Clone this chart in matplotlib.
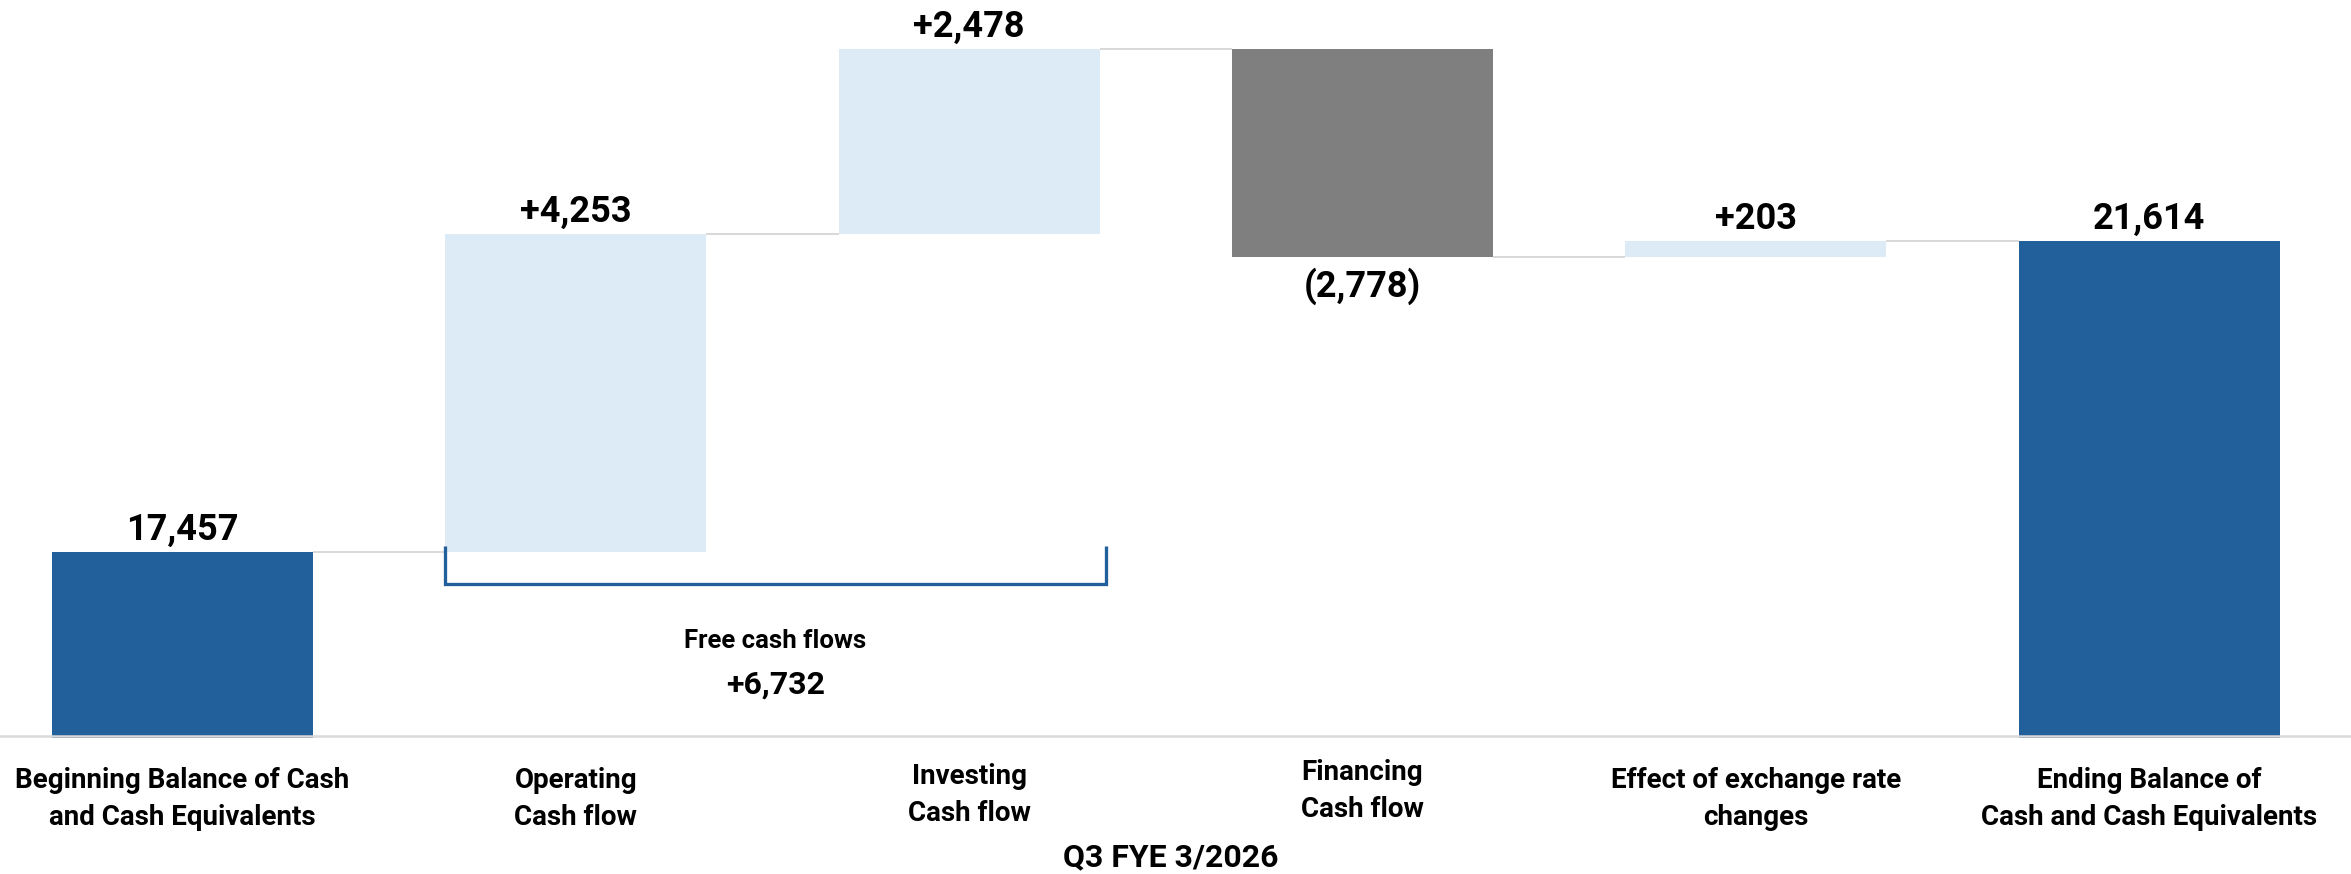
import matplotlib
matplotlib.use("Agg")
import matplotlib.pyplot as plt
from matplotlib.patches import Rectangle

# ---------------- data ----------------
categories = [
    "Beginning Balance of Cash\nand Cash Equivalents",
    "Operating\nCash flow",
    "Investing\nCash flow",
    "Financing\nCash flow",
    "Effect of exchange rate\nchanges",
    "Ending Balance of\nCash and Cash Equivalents",
]
amounts = [17457, 4253, 2478, -2778, 203, 21614]
bar_kinds = ["total", "delta", "delta", "delta", "delta", "total"]
value_labels = ["17,457", "+4,253", "+2,478", "(2,778)", "+203", "21,614"]
free_cash_flow_title = "Free cash flows"
free_cash_flow = 6732
period_label = "Q3 FYE 3/2026"

# ---------------- style ----------------
DPI = 100
W_PX, H_PX = 2351, 874
MAIN_FONT = ["Roboto", "DejaVu Sans"]
DARK_BLUE = "#21609B"
LIGHT_BLUE = "#DDEBF7"
NEG_GRAY = "#7F7F7F"
RULE_GRAY = "#D9D9D9"
AXIS_VALUE = 15000
Y_MIN, Y_MAX = 13150, 24843
X_MIN, X_MAX = -0.464, 5.513
BAR_W = 0.664
# small vertical nudges (px) of the category captions, as laid out on the slide
CAPTION_NUDGE = [0, 0, -4, -8, 0, 0]


def pt(px):
    return px * 72.0 / DPI


UPP = (Y_MAX - Y_MIN) / H_PX          # data units per pixel (vertical)
XPP = (X_MAX - X_MIN) / W_PX          # data units per pixel (horizontal)

fig = plt.figure(figsize=(W_PX / DPI, H_PX / DPI), dpi=DPI)
ax = fig.add_axes([0, 0, 1, 1])
ax.set_xlim(X_MIN, X_MAX)
ax.set_ylim(Y_MIN, Y_MAX)
ax.axis("off")

# ---- floating bars ----
levels = []
running = 0
for i, (amt, kind) in enumerate(zip(amounts, bar_kinds)):
    if kind == "total":
        lo, hi = AXIS_VALUE - 2.5 * UPP, amt
        running = amt
        color = DARK_BLUE
    else:
        start = running
        running = running + amt
        lo, hi = min(start, running), max(start, running)
        color = LIGHT_BLUE if amt >= 0 else NEG_GRAY
    levels.append(running)
    ax.add_patch(Rectangle((i - BAR_W / 2, lo), BAR_W, hi - lo,
                           facecolor=color, edgecolor="none", zorder=2))

    # value label
    if kind == "delta" and amt < 0:
        ax.text(i, lo - 40 * UPP, value_labels[i], ha="center", va="baseline",
                fontsize=26, fontweight="bold", family=MAIN_FONT, zorder=5)
    else:
        ax.text(i, hi + 12 * UPP, value_labels[i], ha="center", va="baseline",
                fontsize=26, fontweight="bold", family=MAIN_FONT, zorder=5)

# ---- connector lines between bars ----
for i in range(len(amounts) - 1):
    ax.plot([i + BAR_W / 2, i + 1 - BAR_W / 2], [levels[i], levels[i]],
            color=RULE_GRAY, lw=pt(2), solid_capstyle="butt", zorder=1)

# ---- baseline rule ----
ax.axhline(AXIS_VALUE, color=RULE_GRAY, lw=pt(2.5), zorder=3)

# ---- free cash flow bracket (operating + investing) ----
bx0 = 1 - BAR_W / 2
bx1 = 2 + BAR_W / 2 + 6 * XPP
b_top = levels[0] + 6 * UPP
b_low = levels[0] - 32 * UPP
ax.plot([bx0, bx0, bx1, bx1], [b_top, b_low, b_low, b_top],
        color=DARK_BLUE, lw=pt(3.3), solid_joinstyle="miter",
        solid_capstyle="butt", zorder=4)
bxc = (bx0 + bx1) / 2
ax.text(bxc, b_low - 64 * UPP, free_cash_flow_title, ha="center", va="baseline",
        fontsize=18.5, fontweight="bold", family=MAIN_FONT, zorder=5)
ax.text(bxc, b_low - 109 * UPP, f"+{free_cash_flow:,}", ha="center", va="baseline",
        fontsize=23, fontweight="bold", family=MAIN_FONT, zorder=5)

# ---- category captions ----
for i, cat in enumerate(categories):
    lines = cat.split("\n")
    for j, line in enumerate(lines):
        y = AXIS_VALUE - (52 + 37 * j + CAPTION_NUDGE[i]) * UPP
        ax.text(i, y, line, ha="center", va="baseline",
                fontsize=20, fontweight="bold", family=MAIN_FONT, zorder=5)

# ---- period caption ----
ax.text(X_MIN + 1171 * XPP, AXIS_VALUE - 131 * UPP, period_label,
        ha="center", va="baseline", fontsize=23, fontweight="bold",
        family=MAIN_FONT, zorder=5)

fig.savefig("out.png", dpi=DPI, facecolor="white")
